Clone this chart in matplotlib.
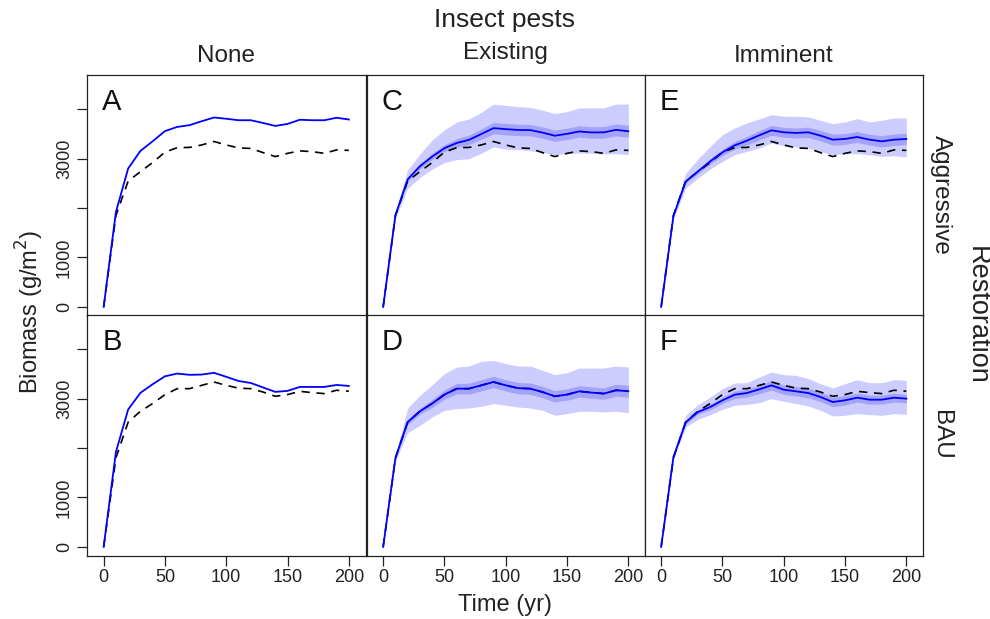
import numpy as np
import matplotlib
matplotlib.use("Agg")
import matplotlib.pyplot as plt

plt.rcParams['font.family'] = ['Liberation Sans', 'DejaVu Sans']

years = [0, 10, 20, 30, 40, 50, 60, 70, 80, 90, 100,
         110, 120, 130, 140, 150, 160, 170, 180, 190, 200]

# dashed reference lines (top row / bottom row)
ref_aggr = [0, 1850, 2545, 2735, 2920, 3130, 3220, 3225, 3275, 3345, 3275,
            3215, 3205, 3120, 3040, 3105, 3155, 3140, 3105, 3175, 3165]
ref_bau = [0, 1800, 2525, 2742, 2900, 3080, 3200, 3200, 3267, 3335, 3267,
           3210, 3200, 3132, 3046, 3080, 3146, 3120, 3100, 3168, 3148]

# no pests (single blue line)
none_aggr = [0, 1920, 2800, 3155, 3350, 3555, 3640, 3675, 3755, 3830, 3805,
             3775, 3775, 3720, 3660, 3700, 3785, 3775, 3775, 3825, 3790]
none_bau = [0, 1920, 2780, 3115, 3290, 3450, 3505, 3480, 3485, 3520, 3440,
            3355, 3315, 3225, 3135, 3155, 3235, 3235, 3235, 3275, 3255]

# existing pests, aggressive (C)
c_mean = [0, 1855, 2580, 2845, 3040, 3210, 3315, 3378, 3495, 3615, 3595,
          3578, 3575, 3525, 3462, 3500, 3548, 3528, 3530, 3580, 3552]
c_hi = [0, 1920, 2770, 3090, 3377, 3580, 3740, 3800, 3935, 4100, 4075,
        4052, 4035, 3978, 3910, 3950, 4025, 4025, 4025, 4102, 4102]
c_lo = [0, 1790, 2398, 2617, 2786, 2920, 2978, 2995, 3107, 3235, 3191,
        3181, 3158, 3124, 3080, 3100, 3113, 3107, 3093, 3100, 3080]
c_in = [0, 30, 40, 50, 60, 70, 85, 95, 105, 115, 115,
        115, 115, 115, 115, 115, 115, 115, 120, 120, 120]

# existing pests, BAU (D)
d_mean = [0, 1800, 2525, 2742, 2900, 3080, 3200, 3200, 3267, 3335, 3267,
          3210, 3200, 3132, 3046, 3080, 3146, 3120, 3100, 3168, 3148]
d_hi = [0, 1850, 2809, 3065, 3280, 3503, 3637, 3658, 3752, 3772, 3705,
        3658, 3658, 3570, 3483, 3523, 3617, 3617, 3617, 3658, 3637]
d_lo = [0, 1730, 2311, 2459, 2627, 2762, 2796, 2809, 2843, 2897, 2863,
        2829, 2809, 2762, 2661, 2695, 2742, 2742, 2728, 2742, 2715]
d_in = [0, 30, 50, 60, 80, 95, 105, 110, 115, 115, 115,
        115, 115, 115, 115, 115, 115, 115, 115, 120, 120]

# imminent pests, aggressive (E)
e_mean = [0, 1840, 2535, 2740, 2943, 3125, 3267, 3362, 3470, 3571, 3531,
          3517, 3531, 3463, 3382, 3396, 3436, 3382, 3348, 3382, 3396]
e_hi = [0, 1890, 2706, 2990, 3247, 3483, 3619, 3720, 3801, 3889, 3855,
        3855, 3842, 3774, 3706, 3740, 3808, 3740, 3774, 3821, 3821]
e_lo = [0, 1790, 2402, 2605, 2787, 2943, 3078, 3145, 3213, 3314, 3260,
        3233, 3213, 3145, 3078, 3098, 3098, 3078, 3044, 3058, 3031]
e_in = [0, 25, 35, 45, 55, 65, 75, 85, 95, 100, 100,
        100, 105, 105, 110, 110, 110, 110, 115, 115, 115]

# imminent pests, BAU (F)
f_mean = [0, 1818, 2520, 2728, 2829, 2964, 3078, 3112, 3186, 3267, 3179,
          3146, 3112, 3031, 2930, 2964, 3018, 2977, 2977, 3018, 2998]
f_hi = [0, 1870, 2661, 2876, 3031, 3200, 3314, 3321, 3435, 3536, 3482,
        3469, 3402, 3301, 3213, 3301, 3381, 3321, 3321, 3381, 3368]
f_lo = [0, 1770, 2425, 2580, 2674, 2782, 2863, 2883, 2917, 2998, 2944,
        2897, 2849, 2762, 2647, 2661, 2695, 2674, 2661, 2695, 2681]
f_in = [0, 25, 35, 45, 55, 65, 75, 80, 90, 95, 95,
        95, 95, 95, 95, 95, 90, 90, 90, 90, 85]

pest_cols = ["None", "Existing", "Imminent"]
resto_rows = ["Aggressive", "BAU"]
letters = [["A", "C", "E"], ["B", "D", "F"]]

panels = {
    (0, 1): (c_mean, c_lo, c_hi, c_in),
    (1, 1): (d_mean, d_lo, d_hi, d_in),
    (0, 2): (e_mean, e_lo, e_hi, e_in),
    (1, 2): (f_mean, f_lo, f_hi, f_in),
}
none_lines = [none_aggr, none_bau]
refs = [ref_aggr, ref_bau]

W, H = 990, 619
fig = plt.figure(figsize=(W / 100, H / 100), dpi=100)

col_left = [87, 366.5, 644.5]
col_w = 278.5
row_top = [75, 315]
row_h = 240.5
txt = '#222222'

t = np.array(years)
for r in range(2):
    for c in range(3):
        ax = fig.add_axes([col_left[c] / W, 1 - (row_top[r] + row_h) / H,
                           col_w / W, row_h / H])
        ax.set_xlim(-13.6, 213.6)
        ax.set_ylim(-175, 4690)
        for s in ax.spines.values():
            s.set_color(txt)
            s.set_linewidth(0.9)
        if c == 0:
            blue = np.array(none_lines[r])
        else:
            mean, lo, hi, inner = panels[(r, c)]
            blue = np.array(mean)
            ax.fill_between(t, lo, hi, color='#ccccff', lw=0)
            ax.fill_between(t, blue - np.array(inner), blue + np.array(inner),
                            color='#a3a3f8', lw=0)
        ax.plot(t, refs[r], color='black', lw=1.2, dashes=(5, 4))
        ax.plot(t, blue, color='#0000ff', lw=1.3)
        ax.text(0.055, 0.945, letters[r][c], transform=ax.transAxes,
                fontsize=21, ha='left', va='top', color='#111111')

        if c == 0:
            ax.set_yticks([0, 1000, 2000, 3000, 4000])
            ax.set_yticklabels(["0", "1000", "", "3000", ""], rotation=90,
                               va='center', fontsize=13)
        else:
            ax.set_yticks([])
        if r == 1:
            ax.set_xticks([0, 50, 100, 150, 200])
            ax.set_xticklabels(["0", "50", "100", "150", "200"], fontsize=13)
        else:
            ax.set_xticks([])
        ax.tick_params(length=7, width=0.9, color=txt, pad=3, labelcolor=txt)

        if r == 0:
            dy = 3 if c == 1 else 0
            fig.text((col_left[c] + col_w / 2) / W, 1 - (56 - dy) / H,
                     pest_cols[c], ha='center', va='center', fontsize=17.5,
                     color=txt)
        if c == 2:
            fig.text(941 / W, 1 - (row_top[r] + row_h / 2) / H, resto_rows[r],
                     rotation=-90, ha='center', va='center', fontsize=17.5,
                     color=txt)

fig.text(505 / W, 1 - 20 / H, "Insect pests", ha='center', va='center',
         fontsize=19, color=txt)
fig.text(977 / W, 1 - 315 / H, "Restoration", rotation=-90, ha='center',
         va='center', fontsize=19.5, color=txt)
fig.text(30 / W, 1 - 312 / H, "Biomass (g/m$^2$)", rotation=90, ha='center',
         va='center', fontsize=17, color=txt)
fig.text(505 / W, 1 - 605 / H, "Time (yr)", ha='center', va='center',
         fontsize=17, color=txt)

fig.savefig("out.png", dpi=100)
